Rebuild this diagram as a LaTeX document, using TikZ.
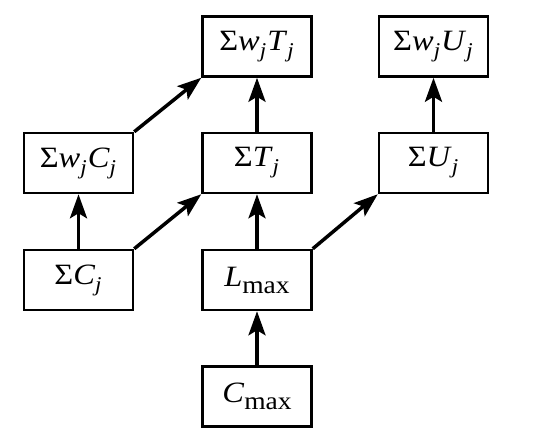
\documentclass[tikz,border=0pt]{standalone}
\usepackage{fontspec}
\setmainfont{Liberation Serif}[FakeStretch=1.1]
\usetikzlibrary{arrows.meta}
\newcommand{\vi}[1]{\textit{#1}}
\newcommand{\sbj}{\raisebox{-7pt}{\fontsize{21}{21}\selectfont\textit{j}}\kern1pt}
\newcommand{\sbmax}{\raisebox{-7pt}{\fontsize{25}{25}\selectfont max}}
\begin{document}
\begin{tikzpicture}[x=1pt,y=-1pt,
  box/.style={draw,line width=2.5pt,minimum width=109pt,minimum height=60pt,inner sep=0pt,font=\fontsize{29.5}{32}\selectfont},
  arr/.style={line width=3.5pt,-{Stealth[length=24pt,width=17pt,inset=5pt]}}]
\useasboundingbox (0,0) rectangle (540,445);
\node[box] (wt) at (257,46.5) {Σ\vi{w}\sbj\vi{T}\sbj};
\node[box] (wu) at (433.5,46.5) {Σ\vi{w}\sbj\vi{U}\sbj};
\node[box] (wc) at (78.5,163) {Σ\vi{w}\sbj\vi{C}\sbj};
\node[box] (t) at (257,163) {Σ\vi{T}\sbj};
\node[box] (u) at (433.5,163) {Σ\vi{U}\sbj};
\node[box] (c) at (78.5,280) {Σ\vi{C}\sbj};
\node[box] (l) at (257,280) {\vi{L}\sbmax};
\node[box] (cm) at (257,396.5) {\vi{C}\sbmax};
\draw[arr] (c.north) -- (wc.south);
\draw[arr] (wc.north east) -- (wt.south west);
\draw[arr] (c.north east) -- (t.south west);
\draw[arr] (t.north) -- (wt.south);
\draw[arr] (l.north) -- (t.south);
\draw[arr] (cm.north) -- (l.south);
\draw[arr] (l.north east) -- (u.south west);
\draw[arr] (u.north) -- (wu.south);
\end{tikzpicture}
\end{document}
